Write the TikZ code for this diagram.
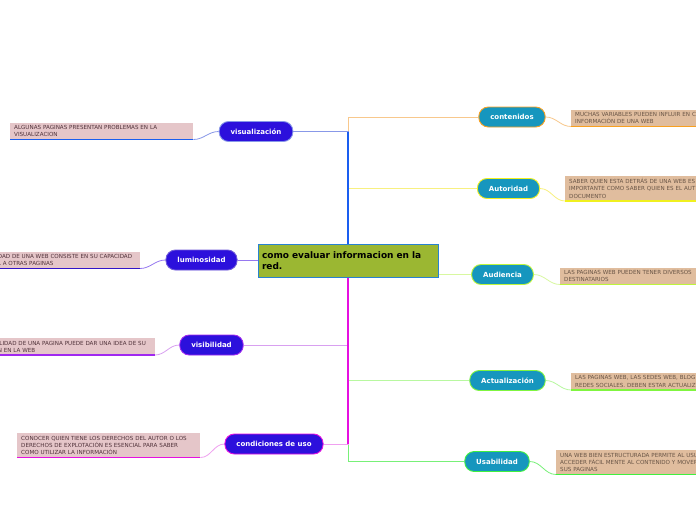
\documentclass[tikz,border=0pt]{standalone}
\usepackage{fontspec}
\setmainfont{DejaVu Sans}
\definecolor{lpill}{RGB}{44,16,220}
\definecolor{rpill}{RGB}{22,150,190}
\definecolor{ltbox}{RGB}{229,198,201}
\definecolor{rtbox}{RGB}{224,189,158}
\definecolor{ltxt}{RGB}{80,50,58}
\definecolor{rtxt}{RGB}{105,85,70}
\definecolor{cfill}{RGB}{155,183,50}
\definecolor{cedge}{RGB}{40,130,210}
\definecolor{cblue}{RGB}{26,94,240}
\definecolor{cbluel}{RGB}{136,152,232}
\definecolor{clum}{RGB}{150,120,240}
\definecolor{clumd}{RGB}{50,20,200}
\definecolor{cvis}{RGB}{216,160,240}
\definecolor{cvisd}{RGB}{160,40,240}
\definecolor{ccond}{RGB}{240,160,240}
\definecolor{cmag}{RGB}{230,16,224}
\definecolor{corange}{RGB}{248,200,140}
\definecolor{corangd}{RGB}{248,160,32}
\definecolor{cyel}{RGB}{248,240,128}
\definecolor{cyeld}{RGB}{240,240,32}
\definecolor{caud}{RGB}{216,248,160}
\definecolor{caudd}{RGB}{190,245,60}
\definecolor{cact}{RGB}{184,248,160}
\definecolor{cactd}{RGB}{128,245,64}
\definecolor{cusa}{RGB}{120,240,120}
\definecolor{cusad}{RGB}{64,240,64}
\pgfdeclarelayer{back}
\pgfdeclarelayer{bg}
\pgfsetlayers{back,bg,main}
\tikzset{
  pillbase/.style={rounded corners=9.5pt, text=white, font=\bfseries\fontsize{7}{8}\selectfont,
    minimum height=20pt, inner xsep=11.5pt, inner ysep=0pt, line width=0.9pt},
  lpillbox/.style={pillbase, fill=lpill},
  rpillbox/.style={pillbase, fill=rpill},
  tbox/.style={font=\fontsize{5.6}{7.2}\selectfont, align=left, inner xsep=4pt, inner ysep=2.6pt},
  ltbox/.style={tbox, fill=ltbox, text=ltxt, text width=175pt},
  rtbox/.style={tbox, fill=rtbox, text=rtxt, text width=175pt},
  uline/.style={line width=1.3pt},
  conn/.style={line width=0.8pt},
  central/.style={fill=cfill, draw=cedge, line width=0.7pt, text width=172pt, inner xsep=4pt,
    minimum height=33pt, align=left, font=\bfseries\fontsize{9}{11}\selectfont, text=black}
}
\begin{document}
\begin{tikzpicture}[x=1pt,y=-1pt]
\useasboundingbox (0,0) rectangle (696,520);
\clip (0,0) rectangle (696,520);
\begin{pgfonlayer}{back}
\fill[white] (0,0) rectangle (696,520);
\end{pgfonlayer}

% central node
\node[central] (c) at (348,260.5) {como evaluar informacion en la\\red.};

% pills left
\node[lpillbox, draw=cbluel] (vis) at (256,131.5) {visualización};
\node[lpillbox, draw=clumd!70] (lum) at (201.5,260) {luminosidad};
\node[lpillbox, draw=cvisd] (visb) at (211.5,345) {visibilidad};
\node[lpillbox, draw=cmag] (cond) at (274,444) {condiciones de uso};
% pills right
\node[rpillbox, draw=corangd] (cont) at (512,117) {contenidos};
\node[rpillbox, draw=cyeld] (aut) at (508.5,188.5) {Autoridad};
\node[rpillbox, draw=caudd] (aud) at (502.5,274.5) {Audiencia};
\node[rpillbox, draw=cactd] (act) at (507.5,380.5) {Actualización};
\node[rpillbox, draw=cusad] (usa) at (497,461.5) {Usabilidad};

% text boxes left
\node[ltbox, anchor=south west] (visT) at (10,139.5) {ALGUNAS PAGINAS PRESENTAN PROBLEMAS EN LA\\VISUALIZACION};
\node[ltbox, anchor=south east, text width=138pt] (lumT) at (140,268.5) {DAD DE UNA WEB CONSISTE EN SU CAPACIDAD\\L A OTRAS PAGINAS};
\node[ltbox, anchor=south east, text width=153pt] (visbT) at (155,355) {ILIDAD DE UNA PAGINA PUEDE DAR UNA IDEA DE SU\\N EN LA WEB};
\node[ltbox, anchor=south west] (condT) at (17,457.5) {CONOCER QUIEN TIENE LOS DERECHOS DEL AUTOR O LOS\\DERECHOS DE EXPLOTACIÓN ES ESENCIAL PARA SABER\\COMO UTILIZAR LA INFORMACIÓN};
% text boxes right
\node[rtbox, anchor=south west] (contT) at (571,126.5) {MUCHAS VARIABLES PUEDEN INFLUIR EN C\\INFORMACIÓN DE UNA WEB};
\node[rtbox, anchor=south west] (autT) at (565,201) {SABER QUIEN ESTA DETRÁS DE UNA WEB ES\\IMPORTANTE COMO SABER QUIEN ES EL AUT\\DOCUMENTO};
\node[rtbox, anchor=south west] (audT) at (560,284.5) {LAS PAGINAS WEB PUEDEN TENER DIVERSOS\\DESTINATARIOS};
\node[rtbox, anchor=south west] (actT) at (571,390) {LAS PAGINAS WEB, LAS SEDES WEB, BLOG\\REDES SOCIALES. DEBEN ESTAR ACTUALIZ};
\node[rtbox, anchor=south west] (usaT) at (556,474.5) {UNA WEB BIEN ESTRUCTURADA PERMITE AL USU\\ACCEDER FÁCIL MENTE AL CONTENIDO Y MOVER\\SUS PAGINAS};

\begin{pgfonlayer}{bg}
% trunk connectors
\draw[conn, corange] (cont.west) -| (c.north);
\draw[conn, cyel] (aut.west) -| (c.north);
\draw[conn, cbluel] (vis.east) -| (c.north);
\draw[conn, cblue, line width=1.1pt] (vis.east -| c.north) -- (c.north);
\draw[conn, clum] (lum.east) -- (lum.east -| c.west);
\draw[conn, caud] (aud.west) -- (aud.west -| c.east);
\draw[conn, cusa] (usa.west) -| (c.south);
\draw[conn, cact] (act.west) -| (c.south);
\draw[conn, cvis] (visb.east) -| (c.south);
\draw[conn, ccond] (cond.east) -| (c.south);
\draw[conn, cmag, line width=1.1pt] (cond.east -| c.south) -- (c.south);
% leaf connectors
\draw[conn, cbluel] (vis.west) to[out=180,in=0] (visT.south east);
\draw[conn, clum] (lum.west) to[out=180,in=0] (lumT.south east);
\draw[conn, cvis] (visb.west) to[out=180,in=0] (visbT.south east);
\draw[conn, ccond] (cond.west) to[out=180,in=0] (condT.south east);
\draw[conn, corange] (cont.east) to[out=0,in=180] (contT.south west);
\draw[conn, cyel] (aut.east) to[out=0,in=180] (autT.south west);
\draw[conn, caud] (aud.east) to[out=0,in=180] (audT.south west);
\draw[conn, cact] (act.east) to[out=0,in=180] (actT.south west);
\draw[conn, cusa] (usa.east) to[out=0,in=180] (usaT.south west);
\end{pgfonlayer}
% underlines
\draw[uline, cblue] (visT.south west) -- (visT.south east);
\draw[uline, clumd] (lumT.south west) -- (lumT.south east);
\draw[uline, cvisd] (visbT.south west) -- (visbT.south east);
\draw[uline, cmag] (condT.south west) -- (condT.south east);
\draw[uline, corangd] (contT.south west) -- (contT.south east);
\draw[uline, cyeld] (autT.south west) -- (autT.south east);
\draw[uline, caudd] (audT.south west) -- (audT.south east);
\draw[uline, cactd] (actT.south west) -- (actT.south east);
\draw[uline, cusad] (usaT.south west) -- (usaT.south east);
\end{tikzpicture}
\end{document}
